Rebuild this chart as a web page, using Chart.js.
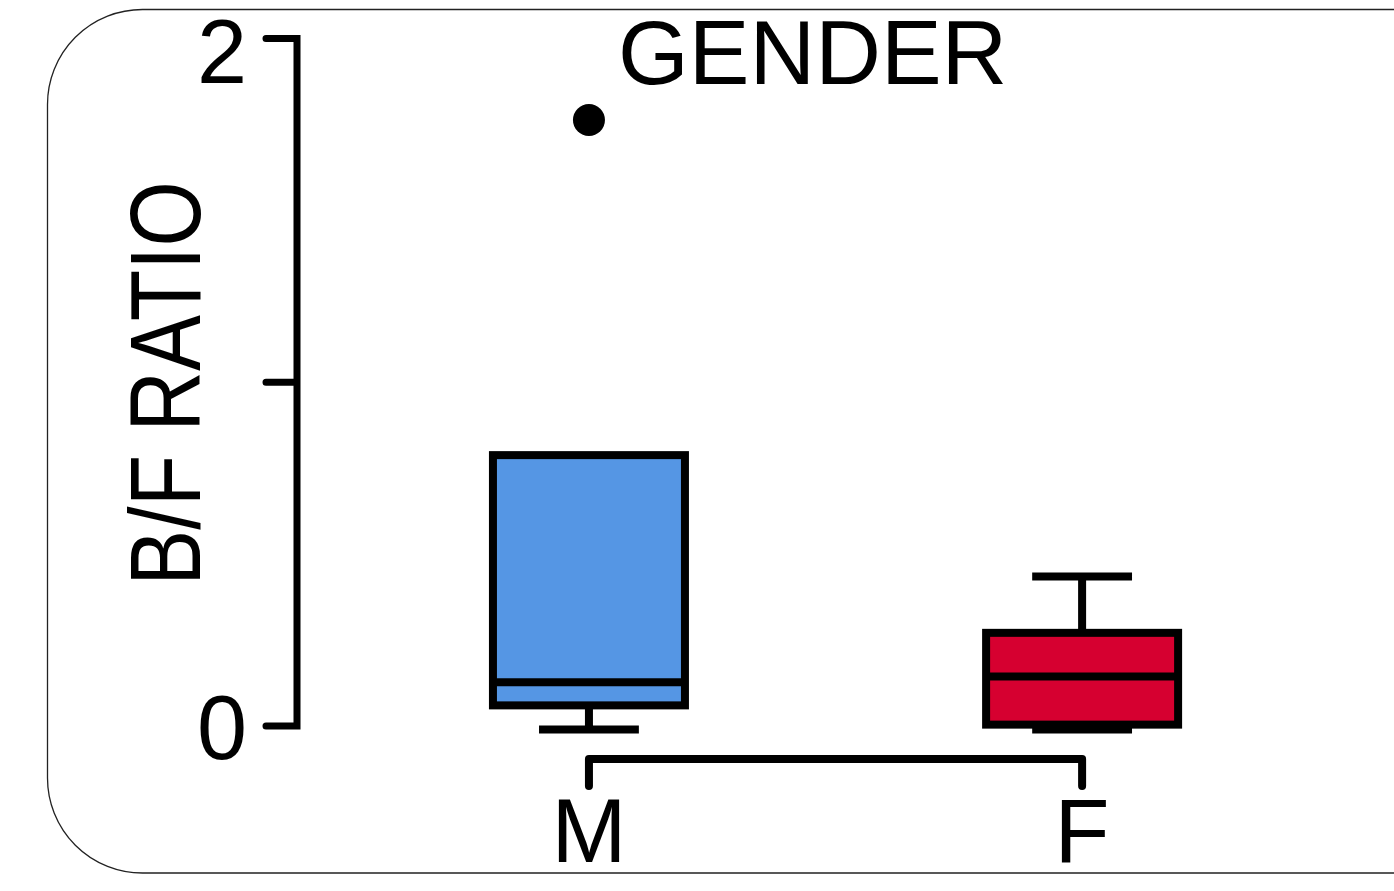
<!DOCTYPE html>
<html>
<head>
<meta charset="utf-8">
<title>B/F ratio by gender</title>
<script src="https://cdn.jsdelivr.net/npm/chart.js@4"></script>
<style>
  html, body { margin: 0; padding: 0; background: #fff; }
  canvas { display: block; }
</style>
</head>
<body>
<canvas id="myChart" width="1394" height="891"></canvas>
<script>
// box plot summary per group
const genders   = ['M', 'F'];
const boxMin    = [-0.01, -0.01];
const boxQ1     = [0.06, 0.004];
const boxMedian = [0.127, 0.144];
const boxQ3     = [0.788, 0.271];
const boxMax    = [0.788, 0.435];
const outliers  = [[1.763], []];
const boxColors = ['#5596e4', '#d60030'];

const yTicks      = [0, 1, 2];
const yTickLabels = ['0', '', '2'];

const FONT = '"Liberation Sans", Arial, sans-serif';

// rounded frame round the whole figure
const framePlugin = {
  id: 'frame',
  beforeDraw(chart) {
    const ctx = chart.ctx;
    ctx.save();
    ctx.fillStyle = '#fff';
    ctx.fillRect(0, 0, chart.width, chart.height);
    ctx.strokeStyle = '#222';
    ctx.lineWidth = 1.3;
    ctx.beginPath();
    ctx.roundRect(47.5, 9.5, 1460, 863.5, 95);
    ctx.stroke();
    ctx.restore();
  }
};

// outlines, medians, whiskers, axes and texts
const boxPlugin = {
  id: 'boxes',
  afterDatasetsDraw(chart) {
    const ctx = chart.ctx;
    const xs = chart.scales.x, ys = chart.scales.y;
    const bars = chart.getDatasetMeta(0).data;
    ctx.save();
    ctx.strokeStyle = '#000';
    ctx.fillStyle = '#000';
    ctx.lineWidth = 8;
    ctx.lineCap = 'butt';

    bars.forEach((bar, i) => {
      const half = bar.width / 2;
      const capHalf = bar.width * 0.26;
      const top = ys.getPixelForValue(boxQ3[i]);
      const bot = ys.getPixelForValue(boxQ1[i]);
      // whiskers
      ctx.beginPath();
      if (boxMax[i] > boxQ3[i]) {
        const yMax = ys.getPixelForValue(boxMax[i]);
        ctx.moveTo(bar.x, top); ctx.lineTo(bar.x, yMax);
        ctx.moveTo(bar.x - capHalf, yMax); ctx.lineTo(bar.x + capHalf, yMax);
      }
      if (boxMin[i] < boxQ1[i]) {
        const yMin = ys.getPixelForValue(boxMin[i]);
        ctx.moveTo(bar.x, bot); ctx.lineTo(bar.x, yMin);
        ctx.moveTo(bar.x - capHalf, yMin); ctx.lineTo(bar.x + capHalf, yMin);
      }
      ctx.stroke();
      // box outline
      ctx.strokeRect(bar.x - half, top, bar.width, bot - top);
      // median
      const med = ys.getPixelForValue(boxMedian[i]);
      ctx.beginPath();
      ctx.moveTo(bar.x - half, med); ctx.lineTo(bar.x + half, med);
      ctx.stroke();
    });

    // y axis with ticks
    const ax = chart.chartArea.left;
    const tickLen = 31;
    const yTop = ys.getPixelForValue(yTicks[yTicks.length - 1]);
    const yBot = ys.getPixelForValue(yTicks[0]);
    ctx.lineWidth = 7;
    ctx.lineCap = 'round';
    ctx.lineJoin = 'miter';
    ctx.beginPath();
    ctx.moveTo(ax - tickLen, yTop);
    ctx.lineTo(ax, yTop);
    ctx.lineTo(ax, yBot);
    ctx.lineTo(ax - tickLen, yBot);
    yTicks.slice(1, -1).forEach(v => {
      const py = ys.getPixelForValue(v);
      ctx.moveTo(ax, py); ctx.lineTo(ax - tickLen, py);
    });
    ctx.stroke();

    ctx.font = '90px ' + FONT;
    ctx.textAlign = 'right';
    ctx.textBaseline = 'alphabetic';
    yTicks.forEach((v, i) => {
      if (!yTickLabels[i]) return;
      const py = ys.getPixelForValue(v);
      // top label sits a little lower so it clears the frame
      const dy = i === yTicks.length - 1 ? 44 : 33;
      ctx.fillText(yTickLabels[i], ax - 50, py + dy);
    });

    // bracket under the groups
    const x0 = xs.getPixelForValue(0), x1 = xs.getPixelForValue(genders.length - 1);
    const by = chart.chartArea.bottom + 33;
    ctx.lineWidth = 8;
    ctx.lineJoin = 'round';
    ctx.beginPath();
    ctx.moveTo(x0, by + 27);
    ctx.lineTo(x0, by);
    ctx.lineTo(x1, by);
    ctx.lineTo(x1, by + 27);
    ctx.stroke();

    ctx.textAlign = 'center';
    genders.forEach((g, i) => {
      ctx.fillText(g, xs.getPixelForValue(i), 862);
    });

    ctx.textAlign = 'left';
    ctx.font = '91px ' + FONT;
    ctx.fillText('GENDER', 618, 84);

    // rotated axis title in a condensed face
    ctx.save();
    ctx.translate(200, 383.5);
    ctx.rotate(-Math.PI / 2);
    ctx.scale(0.84, 1);
    ctx.font = '100px ' + FONT;
    ctx.textAlign = 'center';
    ctx.fillText('B/F RATIO', 0, 0);
    ctx.restore();

    ctx.restore();
  }
};

const outlierPoints = [];
outliers.forEach((vals, i) => vals.forEach(v => outlierPoints.push({x: i, y: v})));

var mychart = document.getElementById('myChart').getContext('2d');
var boxChart = new Chart(mychart, {
  type: 'bar',
  data: {
    datasets: [{
      label: 'IQR',
      data: genders.map((g, i) => ({x: i, y: [boxQ1[i], boxQ3[i]]})),
      backgroundColor: boxColors,
      borderWidth: 0,
      barThickness: 192
    }, {
      type: 'scatter',
      label: 'outliers',
      data: outlierPoints,
      backgroundColor: '#000',
      borderWidth: 0,
      pointRadius: 16
    }]
  },
  options: {
    responsive: false,
    animation: false,
    layout: { padding: { left: 297, top: 38.5, right: 12, bottom: 165 } },
    plugins: { legend: { display: false }, tooltip: { enabled: false } },
    scales: {
      x: { type: 'linear', min: -0.592, max: 1.6, offset: false, display: false },
      y: { min: 0, max: 2, display: false }
    }
  },
  plugins: [framePlugin, boxPlugin]
});
</script>
</body>
</html>
